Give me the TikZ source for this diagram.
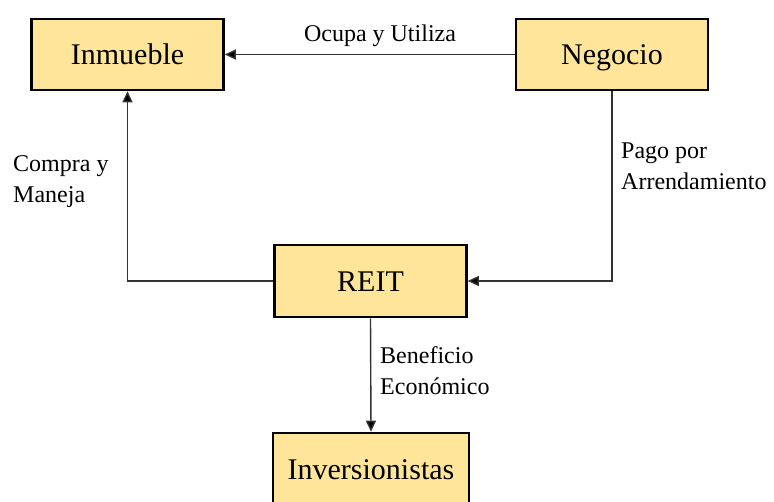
\documentclass[tikz,border=0pt]{standalone}
\usepackage{fontspec}
\setmainfont{Liberation Serif}
\newfontfamily\diagfont{Liberation Serif}
\usetikzlibrary{arrows.meta}
\definecolor{boxfill}{HTML}{FFE599}
\definecolor{linegray}{HTML}{333333}
\begin{document}
\begin{tikzpicture}[x=1pt,y=-1pt,
  entity/.style={draw=black,line width=2.6pt,fill=boxfill,inner sep=0pt,
    text height=21pt,text depth=0pt,
    minimum width=192pt,minimum height=71pt,font=\diagfont\fontsize{30}{36}\selectfont},
  conn/.style={draw=linegray,line width=1.4pt,-{Triangle[length=11pt,width=10pt,fill=black]}},
  lbl/.style={inner sep=0pt,align=left,anchor=base west,font=\diagfont\fontsize{24}{31}\selectfont}]
\useasboundingbox (0,0) rectangle (774,502);
\node[entity] (inm) at (127.5,54.5) {Inmueble};
\node[entity] (neg) at (612,54.5) {Negocio};
\node[entity,minimum height=72pt] (reit) at (370.5,281) {REIT};
\node[entity,minimum width=196pt,minimum height=72pt] (inv) at (371,469) {Inversionistas};
\draw[conn] (neg.west) -- (inm.east);
\draw[conn] (neg.south) |- (reit.east);
\draw[conn] (reit.west) -| (inm.south);
\draw[conn] (reit.south) -- (inv.north);
\node[lbl,anchor=base] (l1) at (380,42) {Ocupa y Utiliza};
\node[lbl] (l2) at (13,203) {Compra y\\Maneja};
\node[lbl] (l3) at (621,190) {Pago por\\Arrendamiento};
\node[lbl] (l4) at (380,395) {Beneficio\\Económico};
\end{tikzpicture}
\end{document}
